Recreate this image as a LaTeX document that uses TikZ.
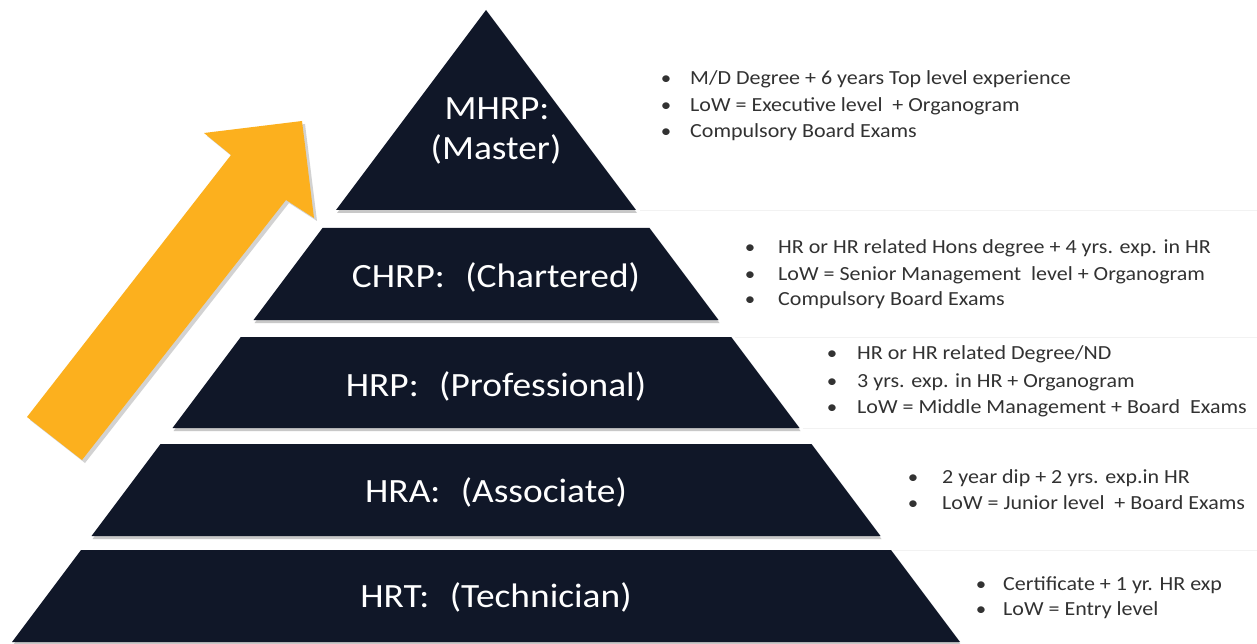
\documentclass[tikz,border=0pt]{standalone}
\usepackage{fontspec}
\setmainfont{Carlito}[FakeStretch=1.1]
\usetikzlibrary{shadows}
\definecolor{navy}{RGB}{16,23,40}
\definecolor{gold}{RGB}{252,176,30}
\definecolor{txt}{RGB}{50,50,50}
\newcommand{\gapx}{\hspace{0.6em}}
\begin{document}
\begin{tikzpicture}[x=1pt,y=-1pt,
  tier/.style={fill=navy, drop shadow={shadow xshift=1pt,shadow yshift=-3pt,opacity=0.3,fill=black!70}},
  lbl/.style={text=white, font=\fontsize{34}{40}\selectfont, anchor=base, inner sep=0pt},
  item/.style={text=txt, font=\fontsize{20}{24}\selectfont, anchor=base west, inner sep=0pt},
  bul/.style={text=txt, font=\fontsize{19}{22}\selectfont, anchor=base, inner sep=0pt},
  sepline/.style={draw=black!5, line width=0.8pt}]
\fill[white] (0,0) rectangle (1257,644);
\useasboundingbox (0,0) rectangle (1257,644);

% faint row separators
\draw[sepline] (640,210) -- (1257,210);
\draw[sepline] (735,337) -- (1257,337);
\draw[sepline] (803,428) -- (1257,428);
\draw[sepline] (893,550) -- (1257,550);

% arrow
\fill[gold, drop shadow={shadow xshift=3pt,shadow yshift=-3pt,opacity=0.25,fill=black!70}]
  (302,121) -- (314,218) -- (286,200) -- (82,460) -- (27,417) -- (231,155) -- (204,133) -- cycle;

% pyramid tiers
\fill[tier] (486,10) -- (636,210) -- (336,210) -- cycle;
\fill[tier] (322.5,228) -- (649.5,228) -- (718.5,320) -- (253.5,320) -- cycle;
\fill[tier] (240.75,337) -- (731.25,337) -- (799.5,428) -- (172.5,428) -- cycle;
\fill[tier] (160.5,444) -- (811.5,444) -- (880.5,536) -- (91.5,536) -- cycle;
\fill[tier] (81,550) -- (891,550) -- (960,642) -- (12,642) -- cycle;

% tier labels
\node[lbl] (m1) at (497,120) {MHRP:};
\node[lbl] (m2) at (496,160) {(Master)};
\node[lbl] (c) at (496,287) {CHRP:\gapx(Chartered)};
\node[lbl] (p) at (496,396) {HRP:\gapx(Professional)};
\node[lbl] (a) at (496,502) {HRA:\gapx(Associate)};
\node[lbl] (t) at (496,607) {HRT:\gapx(Technician)};

% MHRP list
\node[bul] (mb1) at (666,85) {•};
\node[bul] (mb2) at (666,112) {•};
\node[bul] (mb3) at (666,138) {•};
\node[item] (mi1) at (690,85) {M/D Degree + 6 years Top level experience};
\node[item] (mi2) at (690,112) {LoW = Executive level~~+ Organogram};
\node[item] (mi3) at (690,138) {Compulsory Board Exams};

% CHRP list
\node[bul] (cb1) at (750,254) {•};
\node[bul] (cb2) at (750,280) {•};
\node[bul] (cb3) at (750,305) {•};
\node[item] (ci1) at (778,254) {HR or HR related Hons degree + 4 yrs. exp. in HR};
\node[item] (ci2) at (778,280) {LoW = Senior Management~~level + Organogram};
\node[item] (ci3) at (778,305) {Compulsory Board Exams};

% HRP list
\node[bul] (pb1) at (832,359) {•};
\node[bul] (pb2) at (832,387) {•};
\node[bul] (pb3) at (832,413) {•};
\node[item] (pi1) at (857,359) {HR or HR related Degree/ND};
\node[item] (pi2) at (857,387) {3 yrs. exp. in HR + Organogram};
\node[item] (pi3) at (857,413) {LoW = Middle Management + Board~~Exams};

% HRA list
\node[bul] (ab1) at (913,483) {•};
\node[bul] (ab2) at (913,509) {•};
\node[item] (ai1) at (942,483) {2 year dip + 2 yrs. exp.in HR};
\node[item] (ai2) at (942,509) {LoW = Junior level~~+ Board Exams};

% HRT list
\node[bul] (tb1) at (981,590) {•};
\node[bul] (tb2) at (981,615) {•};
\node[item] (ti1) at (1003,590) {Certificate + 1 yr. HR exp};
\node[item] (ti2) at (1003,615) {LoW = Entry level};
\end{tikzpicture}
\end{document}
